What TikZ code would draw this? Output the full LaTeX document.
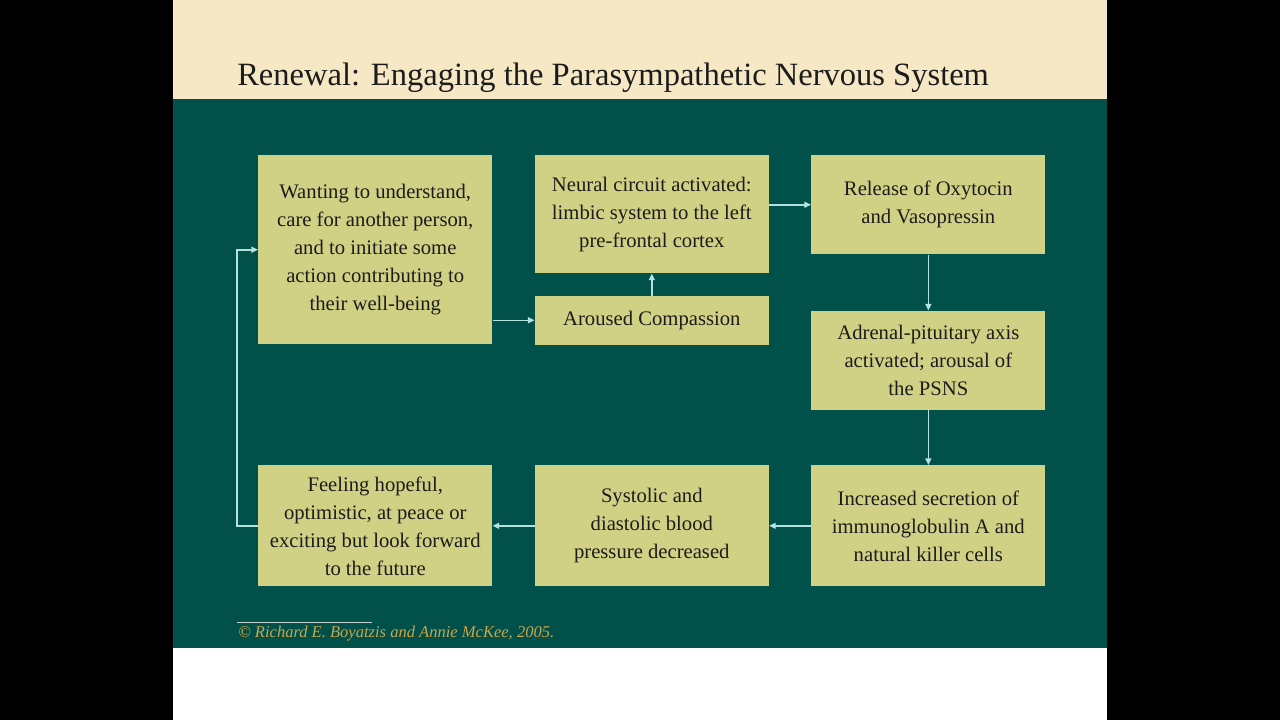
\documentclass[tikz,border=0pt]{standalone}
\usepackage{fontspec}
\setmainfont{Liberation Serif}
\usetikzlibrary{arrows.meta,positioning}
\definecolor{slidegreen}{HTML}{01504A}
\definecolor{slidebeige}{HTML}{F6E8C4}
\definecolor{boxfill}{HTML}{D1D186}
\definecolor{flowline}{HTML}{B4E2DF}
\definecolor{creditgold}{HTML}{C8A64A}
\definecolor{inktext}{HTML}{1C1C1C}

\begin{document}
\begin{tikzpicture}[
  x=0.75pt, y=-0.75pt,
  font=\fontsize{15.5}{21}\selectfont,
  stepbox/.style={fill=boxfill, text=inktext, minimum width=175.5pt,
    align=center, inner sep=2pt},
  flow/.style={-{Triangle[length=5pt,width=4.5pt]}, flowline, line width=1.2pt}
]
% slide background
\useasboundingbox (0,0) rectangle (1280,720);
\fill[black] (0,0) rectangle (1280,720);
\fill[white] (173,0) rectangle (1107,720);
\fill[slidebeige] (173,0) rectangle (1107,99);
\fill[slidegreen] (173,99) rectangle (1107,648);
\node[anchor=base west, inner sep=0pt, text=inktext, font=\fontsize{24.4}{28}\selectfont]
  (title) at (237,86) {Renewal: Engaging the Parasympathetic Nervous System};

% top row
\node[stepbox, minimum height=141.75pt, anchor=north west] (want) at (258,155) {%
  Wanting to understand,\\ care for another person,\\ and to initiate some\\
  action contributing to\\ their well-being};
\node[stepbox, minimum height=88.5pt,
  right=31.5pt of want.north east, anchor=north west] (neural) {%
  Neural circuit activated:\\ limbic system to the left\\ pre-frontal cortex};
\node[stepbox, minimum height=36.75pt, below=16.5pt of neural] (aroused) {Aroused Compassion};
\node[stepbox, minimum height=74.25pt,
  right=31.5pt of neural.north east, anchor=north west] (release) {%
  Release of Oxytocin\\ and Vasopressin};
\node[stepbox, minimum height=74.25pt, below=42pt of release] (adrenal) {%
  Adrenal-pituitary axis\\ activated; arousal of\\ the PSNS};

% bottom row
\node[stepbox, minimum height=90.75pt, below=41.25pt of adrenal] (immune) {%
  Increased secretion of\\ immunoglobulin A and\\ natural killer cells};
\node[stepbox, minimum height=90.75pt, left=31.5pt of immune] (systolic) {%
  Systolic and\\ diastolic blood\\ pressure decreased};
\node[stepbox, minimum height=90.75pt, left=31.5pt of systolic] (feeling) {%
  Feeling hopeful,\\ optimistic, at peace or\\ exciting but look forward\\ to the future};

% connectors
\draw[flow] (aroused.west -| want.east) -- (aroused.west);
\draw[flow] (aroused) -- (neural);
\draw[flow] (release.west -| neural.east) -- (release.west);
\draw[flow] (release) -- (adrenal);
\draw[flow] (adrenal) -- (immune);
\draw[flow] (immune) -- (systolic);
\draw[flow] (systolic) -- (feeling);
\draw[flow] (feeling.west) -- ++(-15.75pt,0) |- (want.west);

% credit line
\draw[white!75!slidegreen, line width=0.6pt] (237,622) -- (372,622);
\node[anchor=base west, inner sep=0pt, text=creditgold, font=\fontsize{12.4}{15}\selectfont\itshape]
  (credit) at (238,637) {\textcopyright\ Richard E. Boyatzis and Annie McKee, 2005.};
\end{tikzpicture}
\end{document}
